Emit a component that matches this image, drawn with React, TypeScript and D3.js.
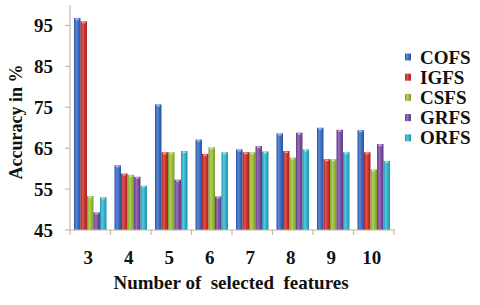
import React from "react";
import * as d3 from "d3";

const categories = ["3", "4", "5", "6", "7", "8", "9", "10"];
const seriesNames = ["COFS", "IGFS", "CSFS", "GRFS", "ORFS"];
const COFS = [96.8, 60.8, 75.7, 67.1, 64.7, 68.6, 70.0, 69.4];
const IGFS = [96.0, 58.8, 64.0, 63.6, 64.0, 64.3, 62.3, 64.0];
const CSFS = [53.3, 58.5, 64.0, 65.2, 64.0, 62.7, 62.3, 59.8];
const GRFS = [49.3, 58.0, 57.3, 53.2, 65.5, 68.8, 69.5, 66.0];
const ORFS = [53.0, 55.8, 64.3, 64.0, 64.2, 64.7, 64.0, 61.9];
const yTicks = [45, 55, 65, 75, 85, 95];
const colors = ["#3a6cc2", "#c9312d", "#98b93a", "#7a4d9f", "#2fb0cb"];
const dark = ["#2a52a0", "#a52420", "#7a9a2c", "#5e3a80", "#2190aa"];
const light = ["#5a88d6", "#e05450", "#b2d056", "#9670b8", "#5ac8de"];

const seriesValues = [COFS, IGFS, CSFS, GRFS, ORFS];

export default function App() {
  const W = 480, H = 305;
  const left = 70, right = 394, top = 5, bottom = 230;
  const x0 = d3.scaleBand<string>().domain(categories).range([left, right]).paddingInner(0).paddingOuter(0);
  const bw = x0.bandwidth();
  const x1 = d3.scaleBand<string>().domain(seriesNames).range([4, bw - 4]).padding(0);
  const y = d3.scaleLinear().domain([45, 100]).range([bottom, top]);
  const axisColor = "#c4b8a2";
  const ff = '"Liberation Serif", "Times New Roman", Tinos, "DejaVu Serif", serif';
  const boundaries = [...categories.map((c) => x0(c) as number), right];

  return (
    <svg width={W} height={H} style={{ position: "absolute", left: 0, top: 0, background: "#fff" }}>
      <defs>
        {colors.map((c, i) => (
          <linearGradient key={i} id={`g${i}`} x1="0" x2="1" y1="0" y2="0">
            <stop offset="0%" stopColor={dark[i]} />
            <stop offset="35%" stopColor={light[i]} />
            <stop offset="65%" stopColor={c} />
            <stop offset="100%" stopColor={dark[i]} />
          </linearGradient>
        ))}
      </defs>
      {categories.map((cat, ci) => (
        <g key={cat} transform={`translate(${x0(cat)},0)`}>
          {seriesNames.map((s, si) => {
            const v = seriesValues[si][ci];
            const yy = y(v);
            return (
              <g key={s}>
                <rect x={x1(s)} y={yy} width={x1.bandwidth()} height={bottom - yy} fill={`url(#g${si})`} />
                <rect x={(x1(s) as number) + 1.5} y={yy + 0.5} width={x1.bandwidth() - 3} height={1.5} fill="#ffffff" opacity={0.5} />
              </g>
            );
          })}
        </g>
      ))}
      <line x1={left} x2={left} y1={top} y2={bottom} stroke={axisColor} strokeWidth={1.2} />
      <g fontFamily={ff} fontWeight="bold" fill="#111">
        {yTicks.map((t) => (
          <g key={t}>
            <line x1={left - 5} x2={left} y1={y(t)} y2={y(t)} stroke={axisColor} strokeWidth={1.2} />
            <text x={53} y={y(t)} dy="0.35em" textAnchor="end" fontSize={19}>
              {t}
            </text>
          </g>
        ))}
        {categories.map((cat) => (
          <text key={cat} x={(x0(cat) as number) + bw / 2 - 2} y={264} textAnchor="middle" fontSize={19}>
            {cat}
          </text>
        ))}
        <text x={231} y={289} textAnchor="middle" fontSize={19} style={{ whiteSpace: "pre" }}>
          {"Number of  selected  features"}
        </text>
        <text transform={`translate(22,122) rotate(-90)`} textAnchor="middle" fontSize={18}>
          Accuracy in %
        </text>
        {seriesNames.map((s, i) => {
          const cy = 57 + i * 20.2;
          return (
            <g key={s}>
              <rect x={405} y={cy - 3.5} width={6} height={7} fill={`url(#g${i})`} />
              <text x={420} y={cy} dy="0.35em" fontSize={19}>
                {s}
              </text>
            </g>
          );
        })}
      </g>
      <line x1={left} x2={right + 1} y1={bottom} y2={bottom} stroke={axisColor} strokeWidth={1.2} />
      {boundaries.map((b, i) => (
        <line key={i} x1={b} x2={b} y1={bottom} y2={bottom + 5} stroke={axisColor} strokeWidth={1.2} />
      ))}
    </svg>
  );
}
